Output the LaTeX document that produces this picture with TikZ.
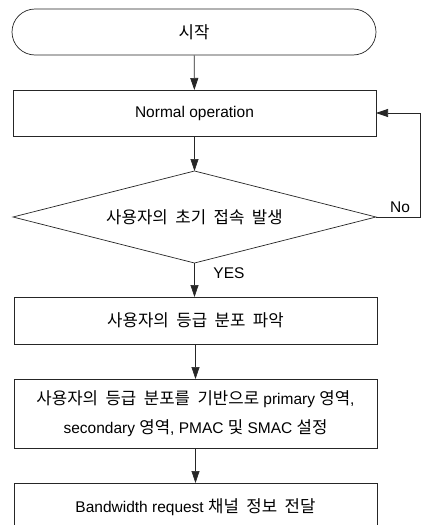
\documentclass[tikz,border=0pt]{standalone}
\usepackage{fontspec}
\setmainfont{Liberation Sans}
\newfontfamily\kr{Noto Sans CJK KR}[Scale=1.08,WordSpace=2]
\usetikzlibrary{shapes.geometric,arrows.meta}
\begin{document}
\begin{tikzpicture}[x=1pt,y=-1pt,
  line/.style={draw=black!85, line width=0.7pt},
  arr/.style={line, -{Triangle[length=12pt,width=8pt]}},
  base/.style={line, inner sep=0pt, outer sep=0pt, align=center,
    font=\fontsize{15.5}{29}\selectfont, text=black},
  procbox/.style={base, rectangle, minimum width=363pt},
  termbox/.style={base, rectangle, rounded corners=23pt, minimum width=364pt, minimum height=46pt},
  decbox/.style={base, diamond, aspect=3.95, minimum width=363pt, minimum height=92pt},
  lbl/.style={font=\fontsize{15.5}{18}\selectfont, inner sep=0pt, text=black}]
\useasboundingbox (0,0) rectangle (422,525);
\fill[white] (0,0) rectangle (422,525);
\clip (0,0) rectangle (422,525);

\node[termbox] (start) at (194,32) {{\kr 시작}};
\node[procbox, minimum height=46pt] (op) at (194.5,113) {Normal operation};
\node[decbox] (dec) at (194.5,217) {{\kr 사용자의 초기 접속 발생}};
\node[procbox, minimum height=47pt] (grade) at (195.5,320.5) {{\kr 사용자의 등급 분포 파악}};
\node[procbox, minimum height=69pt] (set) at (195.5,413.5)
  {{\kr 사용자의 등급 분포를 기반으로} primary {\kr 영역},\\secondary {\kr 영역}, PMAC {\kr 및} SMAC {\kr 설정}};
\node[procbox, minimum height=48pt] (bw) at (195.5,507) {Bandwidth request {\kr 채널 정보 전달}};

\coordinate (loop) at (420,217);

\draw[arr] (start) -- (op);
\draw[arr] (op) -- (dec);
\draw[arr] (dec.south) -- (dec.south |- grade.north);
\draw[arr] (grade) -- (set);
\draw[arr] (set) -- (bw);
\draw[arr] (dec.east) -- (loop) |- (op.east);

\node[lbl, anchor=south] (no) at (400,213) {No};
\node[lbl] (yes) at (229,273) {YES};
\end{tikzpicture}
\end{document}
